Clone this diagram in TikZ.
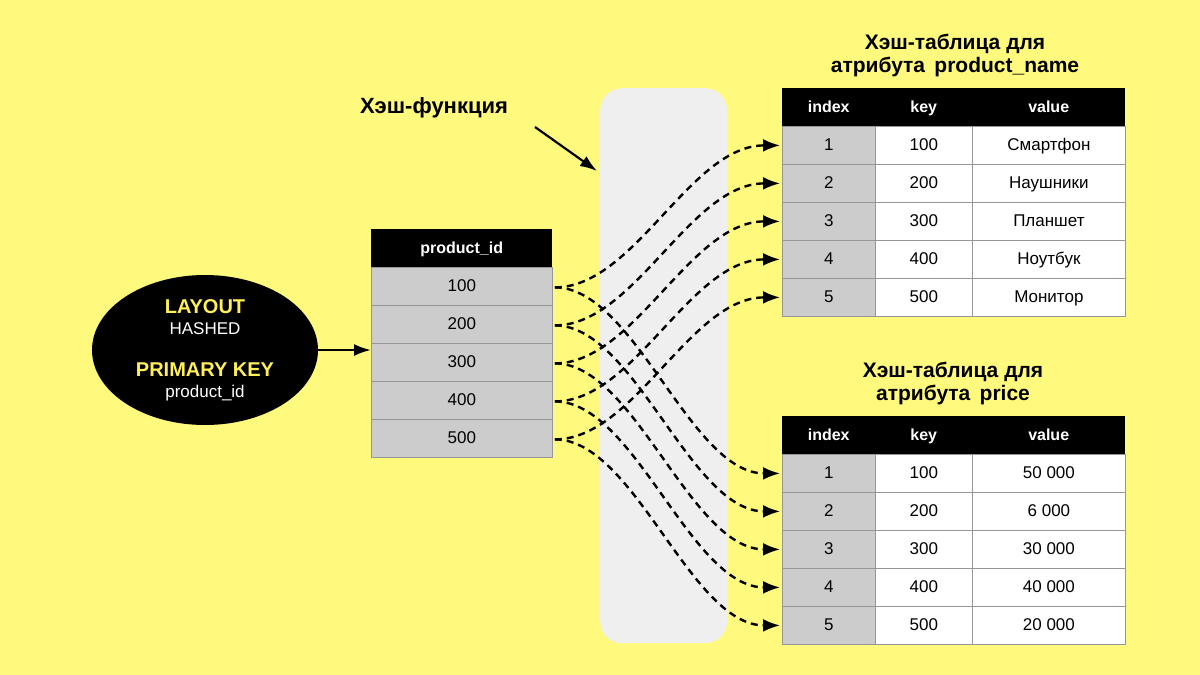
\documentclass[tikz,border=0pt]{standalone}
\usepackage{fontspec}
\setmainfont{Liberation Sans}[BoldFont={Liberation Sans Bold}]
\usetikzlibrary{arrows.meta,shapes.geometric}
\definecolor{bgy}{RGB}{255,250,125}
\definecolor{panel}{RGB}{239,239,239}
\definecolor{cellg}{RGB}{204,204,204}
\definecolor{linec}{RGB}{150,150,150}
\definecolor{yel}{RGB}{255,240,90}
\begin{document}
\begin{tikzpicture}[x=1pt,y=-1pt,
  cell/.style={draw=linec,line width=0.8pt,minimum height=38pt,inner sep=0pt,text height=12pt,text depth=2pt,anchor=north west,font=\fontsize{17}{18}\selectfont},
  hdr/.style={fill=black,text=white,minimum height=38pt,inner sep=0pt,text height=12pt,text depth=2pt,anchor=north west,font=\bfseries\fontsize{16}{18}\selectfont},
  ttl/.style={align=center,font=\bfseries\fontsize{21}{23}\selectfont},
  link/.style={line width=2.4pt,dash pattern=on 7pt off 5pt,-{Latex[length=17pt,width=13pt]}},
  solid arrow/.style={line width=2.2pt,-{Latex[length=17pt,width=12pt]}}]
\fill[bgy] (0,0) rectangle (1200,675);
\useasboundingbox (0,0) rectangle (1200,675);
\node[fill=panel,rounded corners=22pt,minimum width=127pt,minimum height=555pt,anchor=north west,inner sep=0pt] (panel) at (600,88) {};
% source table
\node[hdr,minimum width=181pt] (sh) at (371,229) {product\_id};
\foreach \i/\v in {1/100,2/200,3/300,4/400,5/500}{
  \node[cell,fill=cellg,minimum width=181pt] (s\i) at (371,229+38*\i) {\v};
}
% ellipse
\node[ellipse,fill=black,minimum width=226pt,minimum height=150pt,align=center,text=white,inner sep=0pt,font=\fontsize{17}{21}\selectfont] (lay) at (205,350)
 {{\bfseries\fontsize{20}{21}\selectfont\color{yel}LAYOUT}\\HASHED\\[21pt]
  {\bfseries\fontsize{20}{21}\selectfont\color{yel}PRIMARY KEY}\\product\_id};
\draw[solid arrow] (lay.east) -- (lay.east -| s3.west);
% hash label
\node[font=\bfseries\fontsize{22}{24}\selectfont] (hl) at (434,108) {Хэш-функция};
\coordinate (hs) at (535,127);
\coordinate (he) at (597,171);
\draw[solid arrow] (hs) -- (he);
% top table
\node[ttl] (tt) at (955,55) {Хэш-таблица для\\атрибута\, product\_name};
\node[hdr,minimum width=93pt] (th1) at (782,88) {index};
\node[hdr,minimum width=97pt] (th2) at (875,88) {key};
\node[hdr,minimum width=153pt] (th3) at (972,88) {value};
\foreach \i/\k/\v in {1/100/Смартфон,2/200/Наушники,3/300/Планшет,4/400/Ноутбук,5/500/Монитор}{
  \node[cell,fill=cellg,minimum width=93pt] (t\i) at (782,88+38*\i) {\i};
  \node[cell,fill=white,minimum width=97pt] (tk\i) at (875,88+38*\i) {\k};
  \node[cell,fill=white,minimum width=153pt] (tv\i) at (972,88+38*\i) {\v};
}
% bottom table
\node[ttl] (bt) at (953,383) {Хэш-таблица для\\атрибута\, price};
\node[hdr,minimum width=93pt] (bh1) at (782,416) {index};
\node[hdr,minimum width=97pt] (bh2) at (875,416) {key};
\node[hdr,minimum width=153pt] (bh3) at (972,416) {value};
\foreach \i/\k/\v in {1/100/50 000,2/200/6 000,3/300/30 000,4/400/40 000,5/500/20 000}{
  \node[cell,fill=cellg,minimum width=93pt] (b\i) at (782,416+38*\i) {\i};
  \node[cell,fill=white,minimum width=97pt] (bk\i) at (875,416+38*\i) {\k};
  \node[cell,fill=white,minimum width=153pt] (bv\i) at (972,416+38*\i) {\v};
}
% links
\foreach \i in {1,...,5}{
  \draw[link] ([xshift=2pt,yshift=-1pt]s\i.east) .. controls +(80,0) and +(-90,0) .. ([xshift=-2pt]t\i.west);
  \draw[link] ([xshift=2pt,yshift=-1pt]s\i.east) .. controls +(80,0) and +(-90,0) .. ([xshift=-2pt]b\i.west);
}
\end{tikzpicture}
\end{document}
